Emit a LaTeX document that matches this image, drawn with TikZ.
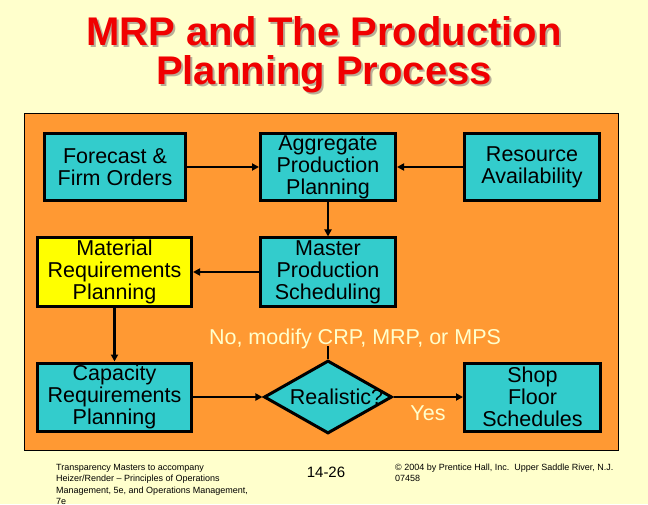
\documentclass[tikz,border=0pt]{standalone}
\usepackage{fontspec}
\setmainfont{Liberation Sans}
\usepackage{xcolor}
\usepackage{tikz}
\usetikzlibrary{positioning,arrows.meta,shapes.geometric}
\definecolor{cfondo}{HTML}{FFFFCC}
\definecolor{cnaranja}{HTML}{FF9933}
\definecolor{cturq}{HTML}{33CCCC}
\definecolor{camar}{HTML}{FFFF00}
\definecolor{crojo}{HTML}{F00000}
\definecolor{csombra}{HTML}{B8AE98}
\definecolor{cpalido}{HTML}{FFFFCC}
\newcommand{\consombra}[1]{\rlap{\kern2pt\raisebox{-2pt}{\color{csombra}#1}}#1}
\tikzset{
  caja/.style={rectangle, draw=black, line width=3pt, fill=cturq, align=center,
    inner sep=0pt, font=\fontsize{21.5}{22}\selectfont},
  cajaam/.style={caja, fill=camar},
  rombo/.style={diamond, draw=black, line width=3pt, fill=cturq, inner sep=0pt,
    minimum width=128pt, minimum height=73pt},
  flecha/.style={-{Triangle[length=7pt,width=7pt]}, line width=2.5pt},
  etq/.style={font=\fontsize{21.5}{22}\selectfont, text=cpalido, inner sep=0pt},
  titulo/.style={font=\bfseries\fontsize{40}{39}\selectfont, text=crojo, inner sep=0pt, anchor=base},
  pie/.style={font=\fontsize{9}{11.5}\selectfont, align=left, inner sep=0pt, anchor=base west},
}
\begin{document}
\begin{tikzpicture}[x=1pt,y=-1pt]
  % fondo y panel
  \fill[cfondo] (0,0) rectangle (648,504);
  \draw[fill=cnaranja, line width=1pt] (24,114) rectangle (618,450);
  \node[titulo] (tit1) at (324,46) {\consombra{MRP and The Production}};
  \node[titulo] (tit2) at (324,85) {\consombra{Planning Process}};
  % cajas
  \node[caja, minimum width=141pt, minimum height=67pt] (fc) at (115,167) {Forecast \&\\Firm Orders};
  \node[caja, minimum width=135pt, minimum height=67pt] (agg) at (328,167) {Aggregate\\Production\\Planning};
  \node[caja, minimum width=135pt, minimum height=67pt] (res) at (532,167) {Resource\\Availability};
  \node[cajaam, minimum width=154pt, minimum height=68pt] (mat) at (114.5,272) {Material\\Requirements\\Planning};
  \node[caja, minimum width=135pt, minimum height=68pt] (mps) at (328,272) {Master\\Production\\Scheduling};
  \node[caja, minimum width=154pt, minimum height=68pt] (crp) at (114.5,397) {Capacity\\Requirements\\Planning};
  \node[rombo, label={[font=\fontsize{21.5}{22}\selectfont, inner sep=0pt, xshift=8.5pt]center:Realistic?}] (real) at (328,397) {};
  \node[caja, minimum width=136pt, minimum height=68pt] (shop) at (532.5,397) {Shop\\Floor\\Schedules};
  \node[etq] (nomod) at (355,339) {No, modify CRP, MRP, or MPS};
  \node[etq] (yes) at (428,413) {Yes};
  % flechas
  \draw[flecha] (fc) -- (agg);
  \draw[flecha] (res) -- (agg);
  \draw[flecha] (agg) -- (mps);
  \draw[flecha] (mps) -- (mat);
  \draw[flecha] (mat) -- (crp);
  \draw[flecha] (crp) -- (real);
  \draw[flecha] (real) -- (shop);
  \coordinate (nomodpie) at (328,346);
  \draw[line width=2.5pt] (real.north) -- (nomodpie);
  % pie de pagina (base = ultima linea)
  \node[pie] (masters) at (56,504.5) {Transparency Masters to accompany\\Heizer/Render -- Principles of Operations\\Management, 5e, and Operations Management,\\7e};
  \node[font=\fontsize{15}{15}\selectfont, inner sep=0pt] (pag) at (326,472) {14-26};
  \node[pie] (copy) at (395,481.5) {© 2004 by Prentice Hall, Inc.\ \ Upper Saddle River, N.J.\\07458};
\end{tikzpicture}
\end{document}
